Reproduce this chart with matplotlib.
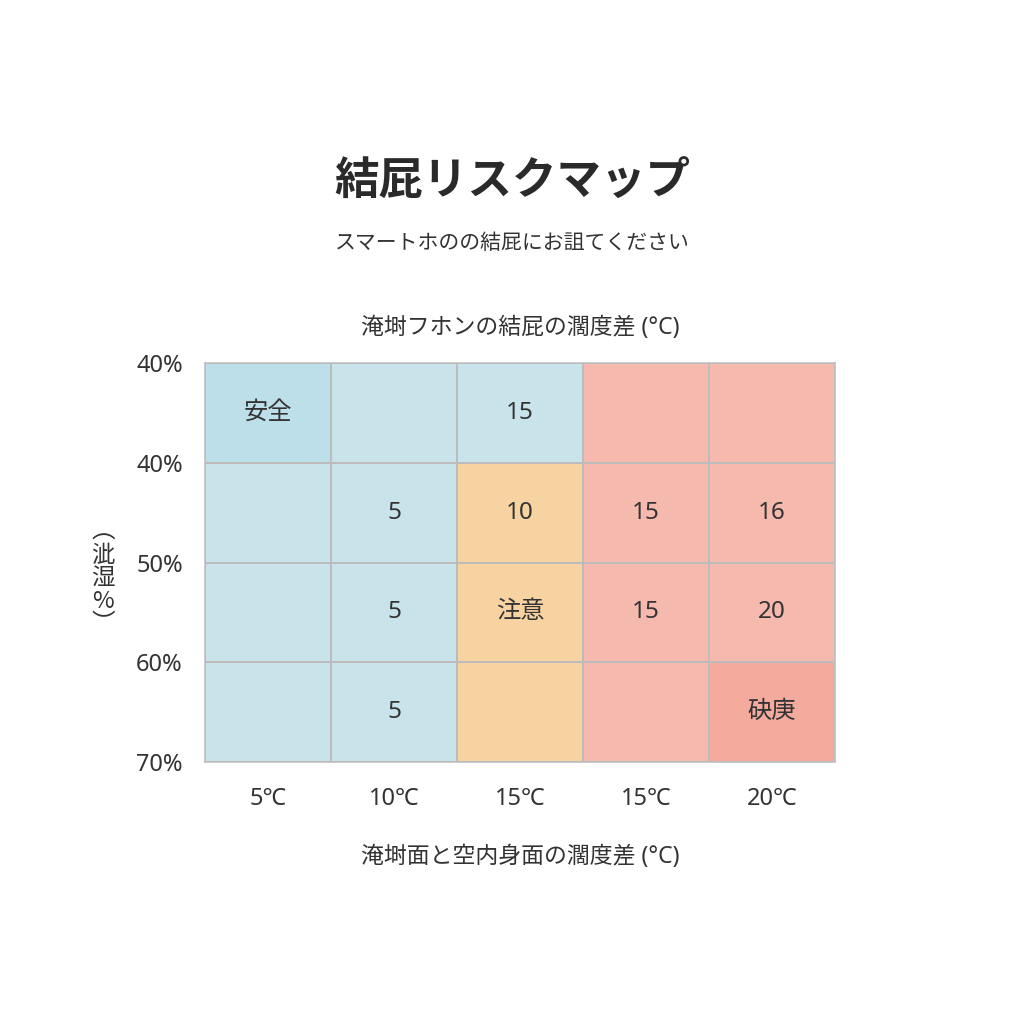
import matplotlib
matplotlib.use('Agg')
import matplotlib.pyplot as plt
from matplotlib.colors import ListedColormap
import numpy as np

plt.rcParams['font.family'] = ['Noto Sans', 'Noto Sans CJK JP', 'DejaVu Sans']

# data
x_labels = ['5℃', '10℃', '15℃', '15℃', '20℃']
y_labels = ['40%', '40%', '50%', '60%', '70%']
# 0 = safe (blue), 1 = caution (orange), 2 = danger (red), 3 = strong safe, 4 = strong danger
risk = [
    [3, 0, 0, 2, 2],
    [0, 0, 1, 2, 2],
    [0, 0, 1, 2, 2],
    [0, 0, 1, 2, 4],
]
cell_text = [
    ['安全', '', '15', '', ''],
    ['', '5', '10', '15', '16'],
    ['', '5', '注意', '15', '20'],
    ['', '5', '', '', '砄庚'],
]

cmap = ListedColormap(['#c9e3ea', '#f8d3a2', '#f5b9ae', '#bddfe9', '#f4ab9e'])
text_color = '#333333'

fig = plt.figure(figsize=(10.24, 10.24), dpi=100)
ax = fig.add_axes([205/1024, 1 - 762/1024, 630/1024, 399/1024])

data = np.array(risk)
nrows, ncols = data.shape
ax.pcolormesh(np.arange(ncols + 1), np.arange(nrows + 1), data, cmap=cmap,
              vmin=-0.5, vmax=4.5, edgecolors='#bcbcbc', linewidth=1.1)
ax.set_xlim(0, ncols)
ax.set_ylim(nrows, 0)

for r in range(nrows):
    for c in range(ncols):
        if cell_text[r][c]:
            ax.text(c + 0.5, r + 0.5, cell_text[r][c], ha='center', va='center',
                    fontsize=17.5, color=text_color)

ax.set_xticks(np.arange(ncols) + 0.5)
ax.set_xticklabels(x_labels, fontsize=17, color=text_color)
ax.set_yticks(np.arange(nrows + 1))
ax.set_yticklabels(y_labels, fontsize=17, color=text_color)
ax.tick_params(length=0, pad=16)
ax.tick_params(axis='x', pad=18)
for s in ax.spines.values():
    s.set_color('#bcbcbc')
    s.set_linewidth(1.1)

fig.text(0.5, 1 - 183/1024, '結屁リスクマップ', ha='center', va='center',
         fontsize=32, fontweight='bold', color='#2a2a2a')
fig.text(0.5, 1 - 243/1024, 'スマートホのの結屁にお詛てください', ha='center', va='center',
         fontsize=15, color=text_color)
fig.text(520/1024, 1 - 328/1024, '淹埘フホンの結屁の濶度差 (°C)', ha='center', va='center',
         fontsize=16.5, color=text_color)
fig.text(520/1024, 1 - 857/1024, '淹埘面と空内身面の濶度差 (°C)', ha='center', va='center',
         fontsize=16.5, color=text_color)
fig.text(103/1024, 1 - 578/1024, '︵\n泚\n湿\n%\n︶', ha='center', va='center',
         fontsize=17, color=text_color, linespacing=1.0,
         family=['Noto Sans CJK JP', 'DejaVu Sans'])

fig.savefig('out.png', dpi=100, facecolor='white')
